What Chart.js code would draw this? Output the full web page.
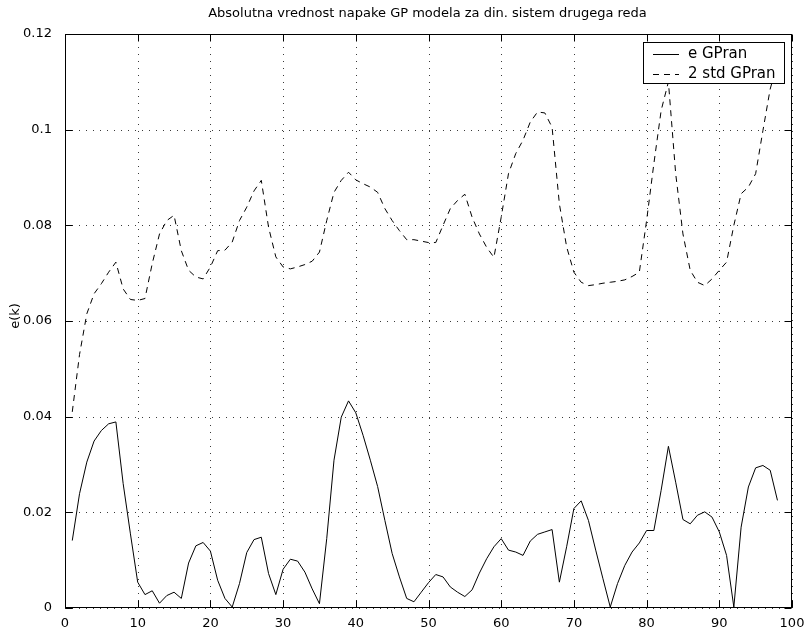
<!DOCTYPE html>
<html>
<head>
<meta charset="utf-8">
<script src="https://cdn.jsdelivr.net/npm/chart.js@4/dist/chart.umd.min.js"></script>
<style>
  html, body { margin: 0; padding: 0; background: #fff; }
  #wrap { width: 808px; height: 636px; }
</style>
</head>
<body>
<div id="wrap"><canvas id="c" width="808" height="636"></canvas></div>
<script>
// Sample index k
const kSamples = [
  1, 2, 3, 4, 5, 6, 7, 8, 9, 10, 11, 12, 13, 14, 15, 16, 17, 18, 19, 20,
  21, 22, 23, 24, 25, 26, 27, 28, 29, 30, 31, 32, 33, 34, 35, 36, 37, 38, 39, 40,
  41, 42, 43, 44, 45, 46, 47, 48, 49, 50, 51, 52, 53, 54, 55, 56, 57, 58, 59, 60,
  61, 62, 63, 64, 65, 66, 67, 68, 69, 70, 71, 72, 73, 74, 75, 76, 77, 78, 79, 80,
  81, 82, 83, 84, 85, 86, 87, 88, 89, 90, 91, 92, 93, 94, 95, 96, 97, 98
];

// Absolute model error |e(k)|
const errGPran = [
  0.0141, 0.0239, 0.0305, 0.0349, 0.0371, 0.0385, 0.0389, 0.0260, 0.0155, 0.0054,
  0.0028, 0.0036, 0.0010, 0.0026, 0.0033, 0.0020, 0.0094, 0.0130, 0.0137, 0.0119,
  0.0058, 0.0020, 0.0002, 0.0051, 0.0116, 0.0143, 0.0148, 0.0072, 0.0028, 0.0081,
  0.0102, 0.0098, 0.0075, 0.0040, 0.0009, 0.0145, 0.0309, 0.0399, 0.0433, 0.0408,
  0.0361, 0.0309, 0.0254, 0.0183, 0.0114, 0.0065, 0.0020, 0.0013, 0.0033, 0.0053,
  0.0070, 0.0065, 0.0044, 0.0033, 0.0024, 0.0038, 0.0073, 0.0103, 0.0128, 0.0145,
  0.0121, 0.0117, 0.0110, 0.0140, 0.0154, 0.0159, 0.0164, 0.0054, 0.0128, 0.0208,
  0.0224, 0.0183, 0.0121, 0.0061, 0.0002, 0.0051, 0.0089, 0.0117, 0.0136, 0.0162,
  0.0162, 0.0246, 0.0338, 0.0263, 0.0185, 0.0176, 0.0194, 0.0201, 0.0190, 0.0159,
  0.0110, 0.0002, 0.0169, 0.0253, 0.0293, 0.0298, 0.0288, 0.0225
];

// Two standard deviations of the GP prediction
const std2GPran = [
  0.0410, 0.0530, 0.0615, 0.0657, 0.0678, 0.0702, 0.0723, 0.0667, 0.0645, 0.0643,
  0.0647, 0.0720, 0.0782, 0.0810, 0.0821, 0.0747, 0.0706, 0.0692, 0.0688, 0.0713,
  0.0747, 0.0748, 0.0765, 0.0810, 0.0838, 0.0872, 0.0894, 0.0796, 0.0734, 0.0713,
  0.0709, 0.0713, 0.0718, 0.0725, 0.0744, 0.0810, 0.0869, 0.0894, 0.0911, 0.0895,
  0.0887, 0.0880, 0.0869, 0.0835, 0.0810, 0.0789, 0.0770, 0.0770, 0.0767, 0.0764,
  0.0764, 0.0800, 0.0835, 0.0852, 0.0865, 0.0817, 0.0782, 0.0754, 0.0733, 0.0817,
  0.0908, 0.0950, 0.0978, 0.1016, 0.1037, 0.1035, 0.1005, 0.0845, 0.0755, 0.0702,
  0.0681, 0.0674, 0.0676, 0.0679, 0.0681, 0.0683, 0.0686, 0.0693, 0.0702, 0.0810,
  0.0929, 0.1040, 0.1100, 0.0908, 0.0782, 0.0706, 0.0681, 0.0674, 0.0688, 0.0706,
  0.0723, 0.0800, 0.0866, 0.0880, 0.0908, 0.0998, 0.1085, 0.1140
];

const seriesLabels = ['e GPran', '2 std GPran'];
const xTickLabels = ['0', '10', '20', '30', '40', '50', '60', '70', '80', '90', '100'];
const yTickLabels = ['0', '0.02', '0.04', '0.06', '0.08', '0.1', '0.12'];
const titleText = 'Absolutna vrednost napake GP modela za din. sistem drugega reda';
const yAxisTitle = 'e(k)';

const FONT = '"DejaVu Sans", "Liberation Sans", Arial, sans-serif';

const toPoints = (ys) => ys.map((y, i) => ({ x: kSamples[i], y: y }));

// Dotted grid, inward ticks, axes box, title and boxed legend
const framePlugin = {
  id: 'frame',
  beforeDatasetsDraw(chart) {
    const { ctx, chartArea: a, scales: { x, y } } = chart;
    ctx.save();
    ctx.strokeStyle = '#3a3a3a';
    ctx.lineWidth = 1;
    ctx.setLineDash([1, 6]);
    x.ticks.forEach(t => {
      const px = Math.round(x.getPixelForValue(t.value)) + 0.5;
      ctx.beginPath(); ctx.moveTo(px, a.bottom); ctx.lineTo(px, a.top); ctx.stroke();
    });
    y.ticks.forEach(t => {
      const py = Math.round(y.getPixelForValue(t.value)) + 0.5;
      ctx.beginPath(); ctx.moveTo(a.left, py); ctx.lineTo(a.right, py); ctx.stroke();
    });
    ctx.restore();
  },
  afterDatasetsDraw(chart) {
    const { ctx, chartArea: a, scales: { x, y } } = chart;
    ctx.save();
    ctx.setLineDash([]);
    ctx.strokeStyle = '#000';
    ctx.lineWidth = 1;
    const L = Math.round(a.left) + 0.5, R = Math.round(a.right) - 0.5;
    const T = Math.round(a.top) + 0.5, B = Math.round(a.bottom) - 0.5;
    const tl = 7;
    ctx.beginPath();
    x.ticks.forEach(t => {
      const px = Math.round(x.getPixelForValue(t.value)) + 0.5;
      ctx.moveTo(px, B); ctx.lineTo(px, B - tl);
      ctx.moveTo(px, T); ctx.lineTo(px, T + tl);
    });
    y.ticks.forEach(t => {
      const py = Math.round(y.getPixelForValue(t.value)) + 0.5;
      ctx.moveTo(L, py); ctx.lineTo(L + tl, py);
      ctx.moveTo(R, py); ctx.lineTo(R - tl, py);
    });
    ctx.stroke();
    ctx.strokeRect(L, T, R - L, B - T);

    // title
    ctx.fillStyle = '#000';
    ctx.font = '13px ' + FONT;
    ctx.textAlign = 'center';
    ctx.textBaseline = 'middle';
    ctx.fillText(titleText, (a.left + a.right) / 2 - 1, 14);

    // y axis title
    ctx.save();
    ctx.translate(16, (a.top + a.bottom) / 2 - 5);
    ctx.rotate(-Math.PI / 2);
    ctx.fillText(yAxisTitle, 0, 0);
    ctx.restore();

    // legend
    const bx = 643.5, by = 42.5, bw = 141, bh = 41;
    ctx.fillStyle = '#fff';
    ctx.fillRect(bx, by, bw, bh);
    ctx.strokeRect(bx, by, bw, bh);
    ctx.font = '15px ' + FONT;
    ctx.textAlign = 'left';
    ctx.fillStyle = '#000';
    chart.data.datasets.forEach((ds, i) => {
      const ry = Math.round(54 + i * 19.5) + 0.5;
      ctx.setLineDash(ds.borderDash || []);
      ctx.beginPath(); ctx.moveTo(653, ry); ctx.lineTo(679, ry); ctx.stroke();
      ctx.setLineDash([]);
      ctx.fillText(ds.label, 688, ry);
    });
    ctx.restore();
  }
};

new Chart(document.getElementById('c'), {
  type: 'line',
  data: {
    datasets: [
      {
        label: seriesLabels[0],
        data: toPoints(errGPran),
        borderColor: '#000',
        borderWidth: 1,
        pointRadius: 0,
        tension: 0,
        fill: false
      },
      {
        label: seriesLabels[1],
        data: toPoints(std2GPran),
        borderColor: '#000',
        borderWidth: 1,
        borderDash: [6, 5],
        pointRadius: 0,
        tension: 0,
        fill: false
      }
    ]
  },
  options: {
    responsive: false,
    animation: false,
    devicePixelRatio: 1,
    layout: { padding: { left: 0, right: 16, top: 34, bottom: 0 } },
    plugins: {
      legend: { display: false },
      title: { display: false },
      tooltip: { enabled: false }
    },
    scales: {
      x: {
        type: 'linear',
        min: 0, max: 100,
        grid: { display: false },
        border: { display: false },
        ticks: {
          stepSize: 10,
          color: '#000',
          padding: 0,
          maxRotation: 0,
          font: { family: FONT, size: 13 },
          callback: (v, i) => xTickLabels[i]
        },
        afterFit: (s) => { s.height = 28; }
      },
      y: {
        type: 'linear',
        min: 0, max: 0.12,
        grid: { display: false },
        border: { display: false },
        ticks: {
          stepSize: 0.02,
          color: '#000',
          padding: 5,
          font: { family: FONT, size: 13 },
          callback: (v, i) => yTickLabels[i]
        },
        afterFit: (s) => { s.width = 65; }
      }
    }
  },
  plugins: [framePlugin]
});
</script>
</body>
</html>
